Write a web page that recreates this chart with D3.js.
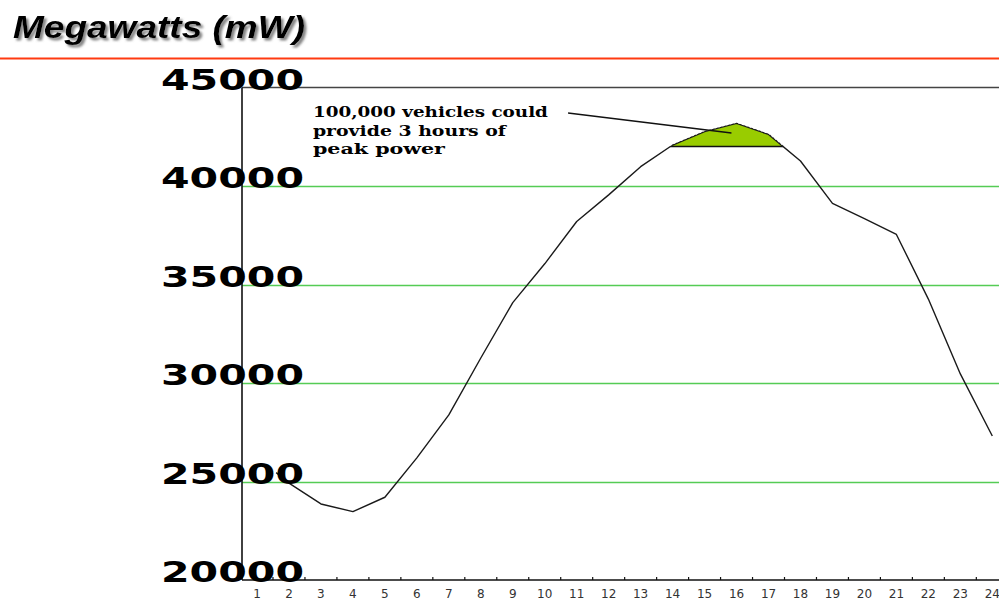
<!DOCTYPE html>
<html>
<head>
<meta charset="utf-8">
<script src="https://cdn.jsdelivr.net/npm/d3@7"></script>
<style>
  html, body { margin: 0; padding: 0; background: #fff; }
  svg { display: block; }
</style>
</head>
<body>
<svg id="chart" width="999" height="600"></svg>
<script>
// ---- data ----
const hours = [1.6, 2, 3, 4, 5, 6, 7, 8, 9, 10, 11, 12, 13, 14, 15, 16, 17, 18, 19, 20, 21, 22, 23, 24];
const megawatts = [25450, 24920, 23860, 23470, 24200, 26200, 28380, 31270, 34080, 36050, 38200, 39550,
                   40980, 42080, 42760, 43180, 42620, 41270, 39120, 38340, 37540, 34260, 30460, 27310];
const xTickLabels = ["1","2","3","4","5","6","7","8","9","10","11","12","13","14","15","16","17","18","19","20","21","22","23","24"];
const yTickValues = [20000, 25000, 30000, 35000, 40000, 45000];
const peakThreshold = 42000;
const titleText = "Megawatts (mW)";
const noteLines = ["100,000 vehicles could", "provide 3 hours of", "peak power"];
const noteWidths = [235, 193, 132];
const leader = [[10.73, 43706], [15.84, 42690]];

// ---- scales ----
const svg = d3.select("#chart");
const x = d3.scaleLinear().domain([1, 24]).range([257, 257 + 23 * 31.97]);
const y = d3.scaleLinear().domain([20000, 45000]).range([580, 87.5]);
const axisLeft = 242, axisRight = 999;

// shadow filter for title
const defs = svg.append("defs");
const f = defs.append("filter").attr("id", "shadow").attr("x", "-5%").attr("y", "-20%").attr("width", "115%").attr("height", "160%");
f.append("feDropShadow").attr("dx", 2.5).attr("dy", 2.5).attr("stdDeviation", 1.2)
  .attr("flood-color", "#777").attr("flood-opacity", 0.9);

// ---- title ----
svg.append("text").attr("x", 13).attr("y", 38)
  .attr("font-family", "Liberation Sans, Arial, sans-serif").attr("font-weight", "bold").attr("font-style", "italic")
  .attr("font-size", 31).attr("textLength", 292).attr("lengthAdjust", "spacingAndGlyphs")
  .attr("fill", "#000").attr("filter", "url(#shadow)").text(titleText);

// red rule
svg.append("line").attr("x1", 0).attr("x2", 999).attr("y1", 58.5).attr("y2", 58.5)
  .attr("stroke", "#ff3a10").attr("stroke-width", 2);

// ---- gridlines ----
svg.append("g").selectAll("line").data(yTickValues.filter(v => v > 20000 && v < 45000)).join("line")
  .attr("x1", axisLeft).attr("x2", axisRight)
  .attr("y1", d => Math.round(y(d)) + 0.5).attr("y2", d => Math.round(y(d)) + 0.5)
  .attr("stroke", "#55cc55").attr("stroke-width", 1.6);

// top line (45000)
svg.append("line").attr("x1", axisLeft).attr("x2", axisRight)
  .attr("y1", y(45000)).attr("y2", y(45000)).attr("stroke", "#444").attr("stroke-width", 1.5);

// ---- peak area ----
const pts = hours.map((h, i) => [h, megawatts[i]]);
const poly = [];
for (let i = 0; i < pts.length - 1; i++) {
  const [h0, v0] = pts[i], [h1, v1] = pts[i + 1];
  if (v0 >= peakThreshold) poly.push([h0, v0]);
  if ((v0 - peakThreshold) * (v1 - peakThreshold) < 0) {
    const t = (peakThreshold - v0) / (v1 - v0);
    poly.push([h0 + t * (h1 - h0), peakThreshold]);
  }
}
svg.append("path")
  .attr("d", d3.line().x(d => x(d[0])).y(d => y(d[1]))(poly) + "Z")
  .attr("fill", "#99cc00").attr("stroke", "none");
svg.append("line")
  .attr("x1", x(poly[0][0])).attr("x2", x(poly[poly.length - 1][0]))
  .attr("y1", y(peakThreshold)).attr("y2", y(peakThreshold))
  .attr("stroke", "#111").attr("stroke-width", 1.5);

// ---- curve ----
const line = d3.line().x(d => x(d[0])).y(d => y(d[1]));
svg.append("path").attr("d", line(pts)).attr("fill", "none")
  .attr("stroke", "#1a1a1a").attr("stroke-width", 1.4).attr("stroke-linejoin", "round");
// hatched top edge over peak
svg.append("path").attr("d", line(poly)).attr("fill", "none")
  .attr("stroke", "#fff").attr("stroke-width", 1).attr("stroke-dasharray", "2,2")
  .attr("transform", "translate(0,-1)");

// leader line
svg.append("line")
  .attr("x1", x(leader[0][0])).attr("y1", y(leader[0][1]))
  .attr("x2", x(leader[1][0])).attr("y2", y(leader[1][1]))
  .attr("stroke", "#111").attr("stroke-width", 1.3);

// note text
svg.append("g").selectAll("text").data(noteLines).join("text")
  .attr("x", x(2.75)).attr("y", (d, i) => 117 + i * 18.5)
  .attr("font-family", "DejaVu Serif, serif").attr("font-weight", "bold").attr("font-size", 14)
  .attr("textLength", (d, i) => noteWidths[i]).attr("lengthAdjust", "spacingAndGlyphs")
  .attr("fill", "#000").text(d => d);

// ---- axes ----
svg.append("line").attr("x1", axisLeft).attr("x2", axisLeft).attr("y1", y(45000)).attr("y2", y(20000))
  .attr("stroke", "#111").attr("stroke-width", 1.6);
svg.append("line").attr("x1", axisLeft).attr("x2", axisRight).attr("y1", y(20000)).attr("y2", y(20000))
  .attr("stroke", "#111").attr("stroke-width", 1.6);

const tickPos = d3.range(1.5, 24, 1);
svg.append("g").selectAll("line").data(tickPos).join("line")
  .attr("x1", d => x(d)).attr("x2", d => x(d))
  .attr("y1", y(20000) - 3).attr("y2", y(20000))
  .attr("stroke", "#111").attr("stroke-width", 1.2);

svg.append("g").selectAll("text").data(xTickLabels).join("text")
  .attr("x", (d, i) => x(i + 1)).attr("y", 598)
  .attr("text-anchor", "middle")
  .attr("font-family", "DejaVu Sans, sans-serif").attr("font-size", 12)
  .attr("fill", "#333").text(d => d);

// y labels
svg.append("g").selectAll("text").data(yTickValues).join("text")
  .attr("x", 161).attr("y", d => y(d) + 2)
  .attr("font-family", "DejaVu Sans, sans-serif").attr("font-weight", "bold").attr("font-size", 28)
  .attr("textLength", 143).attr("lengthAdjust", "spacingAndGlyphs")
  .attr("fill", "#000").text(d => d);
</script>
</body>
</html>
